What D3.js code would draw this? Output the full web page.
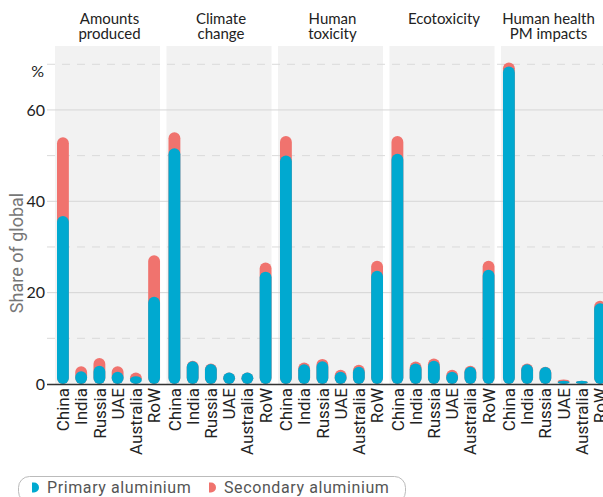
<!DOCTYPE html>
<html>
<head>
<meta charset="utf-8">
<script src="https://cdn.jsdelivr.net/npm/d3@7"></script>
<style>
  html, body { margin: 0; padding: 0; background: #fff; }
  svg { display: block; }
</style>
</head>
<body>
<svg id="chart" width="603" height="497"></svg>
<script>
// ---- data ----
const impacts = ["Amounts produced", "Climate change", "Human toxicity", "Ecotoxicity", "Human health PM impacts"];
const impactTitles = [["Amounts", "produced"], ["Climate", "change"], ["Human", "toxicity"], ["Ecotoxicity"], ["Human health", "PM impacts"]];
const countries = ["China", "India", "Russia", "UAE", "Australia", "RoW"];
// primary aluminium share (%) per impact, in country order
const primary = [
  [36.8, 2.8, 4.0, 2.7, 1.7, 19.1],
  [51.6, 5.0, 4.4, 2.5, 2.5, 24.6],
  [50.0, 4.3, 5.0, 2.7, 3.8, 24.8],
  [50.4, 4.5, 5.1, 2.7, 3.8, 25.0],
  [69.5, 4.3, 3.7, 0.7, 0.7, 17.7]
];
// primary + secondary aluminium share (%) per impact
const total = [
  [54.0, 3.9, 5.7, 3.9, 2.5, 28.2],
  [55.1, 5.1, 4.5, 2.5, 2.5, 26.6],
  [54.3, 4.7, 5.5, 3.1, 4.2, 27.0],
  [54.3, 4.9, 5.6, 3.1, 4.0, 27.0],
  [70.4, 4.5, 3.8, 1.0, 0.7, 18.2]
];
const solidTicks = [0, 20, 40, 60];
const dashedTicks = [10, 30, 50, 70];
const seriesNames = ["Primary aluminium", "Secondary aluminium"];
const colors = ["#00a9d0", "#f0736e"];

// ---- layout ----
const svg = d3.select("#chart");
const W = 603, H = 497;
const baseY = 384;
const y = d3.scaleLinear().domain([0, 74]).range([baseY, 46]);
const panel = d3.scaleBand().domain(impacts).range([55, 606]).paddingInner(0.058);
const pw = panel.bandwidth();
const x = d3.scaleBand().domain(countries).range([2, pw]).paddingInner(0.35).paddingOuter(0);
const gridLeft = 47;

// panel backgrounds
svg.selectAll("rect.bg").data(impacts).join("rect")
  .attr("class", "bg")
  .attr("x", d => panel(d)).attr("y", y(74))
  .attr("width", pw).attr("height", baseY - y(74))
  .attr("fill", "#f2f2f2");

// gridlines
svg.selectAll("line.solid").data(solidTicks.filter(d => d > 0)).join("line")
  .attr("x1", gridLeft).attr("x2", W)
  .attr("y1", d => y(d)).attr("y2", d => y(d))
  .attr("stroke", "#d6d6d6").attr("stroke-width", 1);
svg.selectAll("line.dash").data(dashedTicks).join("line")
  .attr("x1", gridLeft).attr("x2", W)
  .attr("y1", d => y(d)).attr("y2", d => y(d))
  .attr("stroke", "#dadada").attr("stroke-width", 1)
  .attr("stroke-dasharray", "8,7");

// y tick labels
const fontMain = "Lato, 'Open Sans', sans-serif";
svg.selectAll("text.ytick").data(solidTicks).join("text")
  .attr("x", 45).attr("y", d => y(d)).attr("dy", "0.35em")
  .attr("text-anchor", "end")
  .attr("font-family", fontMain).attr("font-size", 16).attr("fill", "#222")
  .text(d => d);
svg.append("text").attr("x", 44).attr("y", y(70) + 13)
  .attr("text-anchor", "end")
  .attr("font-family", fontMain).attr("font-size", 16).attr("fill", "#222")
  .text("%");

// y axis title
svg.append("text")
  .attr("transform", `translate(23,${(y(0) + y(74)) / 2 + 38}) rotate(-90)`)
  .attr("text-anchor", "middle")
  .attr("font-family", "Roboto, sans-serif").attr("font-size", 18).attr("fill", "#777")
  .text("Share of global");

// facet titles
impacts.forEach((imp, i) => {
  const lines = impactTitles[i];
  const t = svg.append("text")
    .attr("text-anchor", "middle")
    .attr("font-family", fontMain).attr("font-size", 15).attr("fill", "#222");
  lines.forEach((l, j) => {
    t.append("tspan").attr("x", panel(imp) + pw / 2 + (i === 4 ? -5 : 2)).attr("y", 24 + j * 15).text(l);
  });
});

// bars
const g = svg.selectAll("g.panel").data(impacts).join("g")
  .attr("class", "panel")
  .attr("transform", d => `translate(${panel(d)},0)`);
const bw = x.bandwidth();
g.each(function(imp, i) {
  const gp = d3.select(this);
  const rows = countries.map((c, k) => ({ c, p: primary[i][k], t: total[i][k] }));
  gp.selectAll("rect.sec").data(rows).join("rect")
    .attr("x", d => x(d.c)).attr("y", d => y(d.t))
    .attr("width", bw).attr("height", d => baseY - y(d.t))
    .attr("rx", bw / 2).attr("ry", bw / 2)
    .attr("fill", colors[1]);
  gp.selectAll("rect.pri").data(rows).join("rect")
    .attr("x", d => x(d.c)).attr("y", d => y(d.p))
    .attr("width", bw).attr("height", d => baseY - y(d.p))
    .attr("rx", bw / 2).attr("ry", bw / 2)
    .attr("fill", colors[0]);
  gp.selectAll("text.xl").data(countries).join("text")
    .attr("transform", d => `translate(${x(d) + bw / 2},${baseY + 4}) rotate(-90)`)
    .attr("dy", "0.36em")
    .attr("text-anchor", "end")
    .attr("font-family", "Roboto, sans-serif").attr("font-size", 17).attr("fill", "#222")
    .text(d => d);
});

// baseline
svg.append("line")
  .attr("x1", gridLeft).attr("x2", W)
  .attr("y1", baseY + 0.5).attr("y2", baseY + 0.5)
  .attr("stroke", "#333").attr("stroke-width", 1.6);

// legend
const lg = svg.append("g");
lg.append("rect").attr("x", 18.5).attr("y", 476.5).attr("width", 387).attr("height", 26)
  .attr("rx", 11).attr("fill", "none").attr("stroke", "#bbb").attr("stroke-width", 1);
const legendX = [32, 209];
seriesNames.forEach((s, i) => {
  const x0 = legendX[i], yc = 487.5;
  lg.append("path")
    .attr("d", `M${x0},${yc - 5} L${x0 + 2},${yc - 5} A5,5 0 0 1 ${x0 + 2},${yc + 5} L${x0},${yc + 5} Z`)
    .attr("fill", colors[i]);
  lg.append("text").attr("x", x0 + 15).attr("y", yc + 5.5)
    .attr("font-family", "Roboto, sans-serif").attr("font-size", 16).attr("fill", "#555")
    .attr("letter-spacing", 0.6)
    .text(s);
});
</script>
</body>
</html>
